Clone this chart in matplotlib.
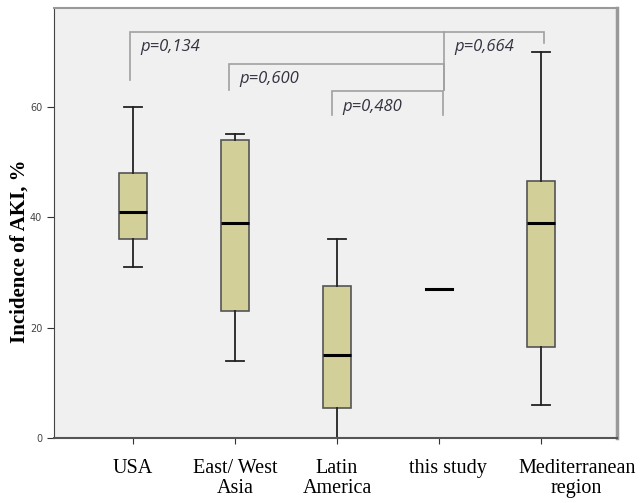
import matplotlib.pyplot as plt
import matplotlib.transforms as mtransforms

# box statistics (incidence of AKI, %)
regions = ['USA', 'East/ West\nAsia', 'Latin\nAmerica', 'this study', 'Mediterranean\nregion']
whislo = [31, 14, 0, 27, 6]
q1 = [36, 23, 5.5, 27, 16.5]
med = [41, 39, 15, 27, 39]
q3 = [48, 54, 27.5, 27, 46.5]
whishi = [60, 55, 36, 27, 70]

# comparison brackets: left x, right x, top y, left leg end, right leg end, label
br_left = [-0.03, 0.94, 1.95, 3.05]
br_right = [3.05, 3.05, 3.04, 4.03]
br_top = [73.6, 67.8, 62.9, 73.6]
br_leg_l = [64.9, 63.1, 58.5, 73.6]
br_leg_r = [63.1, 63.1, 58.5, 71.6]
br_text = ['p=0,134', 'p=0,600', 'p=0,480', 'p=0,664']

fig = plt.figure(figsize=(6.42, 5.03), dpi=100)
ax = fig.add_axes([54/642, 65/503, 563/642, 430/503])
ax.set_facecolor('#f0f0f0')

stats = []
for i in range(len(regions)):
    stats.append({'whislo': whislo[i], 'q1': q1[i], 'med': med[i],
                  'q3': q3[i], 'whishi': whishi[i], 'fliers': []})

# "this study" has one value only, draw it as a bare line
box_stats = [s for i, s in enumerate(stats) if i != 3]
box_pos = [i for i in range(len(regions)) if i != 3]
ax.bxp(box_stats, positions=box_pos, widths=0.27, patch_artist=True,
       boxprops=dict(facecolor='#d3cf98', edgecolor='#555555', linewidth=1.2),
       medianprops=dict(color='black', linewidth=2.2),
       whiskerprops=dict(color='#222222', linewidth=1.3),
       capprops=dict(color='#222222', linewidth=1.3), capwidths=0.18)
ax.plot([3 - 0.13, 3 + 0.13], [med[3], med[3]], color='black', lw=2.2)

for i in range(len(br_text)):
    ax.plot([br_left[i], br_left[i], br_right[i], br_right[i]],
            [br_leg_l[i], br_top[i], br_top[i], br_leg_r[i]],
            color='#a0a0a0', lw=1.2, solid_joinstyle='miter')
    ax.text(br_left[i] + 0.1, br_top[i] - 1.4, br_text[i], fontsize=12,
            style='italic', color='#333340', va='top', ha='left',
            family='Open Sans')

ax.set_xlim(-0.775, 4.745)
ax.set_ylim(0, 77.9)
ax.set_xticks(range(len(regions)))
ax.set_xticklabels([''] * len(regions))
# category names drawn by hand: the last two sit right of their ticks
shifts = [0, 0, 0, 0.09, 0.35]
trans = mtransforms.blended_transform_factory(ax.transData, ax.transAxes)
for i, name in enumerate(regions):
    ax.text(i + shifts[i], -0.048, name, transform=trans, ha='center', va='top',
            fontsize=14.5, family='Liberation Serif', linespacing=1.1)

ax.set_yticks([0, 20, 40, 60])
ax.tick_params(axis='y', labelsize=7, labelcolor='#444444', length=5,
               color='#333333')
ax.tick_params(axis='x', length=4, color='#333333')
ax.set_ylabel('Incidence of AKI, %', fontsize=15, fontweight='bold',
              family='Liberation Serif')
ax.yaxis.set_label_coords(-0.044, 0.435)

ax.spines['left'].set_color('#444444')
ax.spines['bottom'].set_color('#555555')
ax.spines['bottom'].set_linewidth(1.5)
ax.spines['top'].set_color('#999999')
ax.spines['top'].set_linewidth(1.5)
ax.spines['right'].set_color('#999999')
ax.spines['right'].set_linewidth(2.5)

fig.savefig('out.png', dpi=100)
